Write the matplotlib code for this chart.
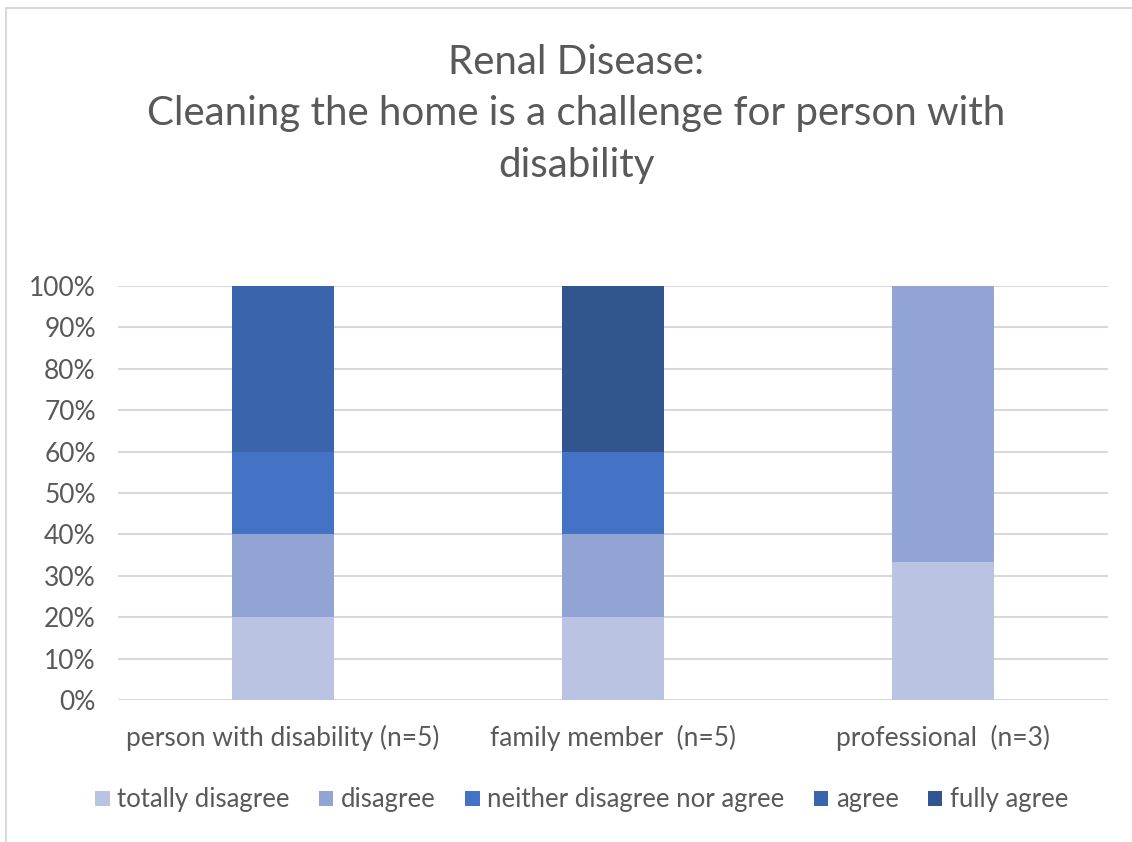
import matplotlib.pyplot as plt
from matplotlib.patches import Rectangle
from matplotlib.ticker import PercentFormatter

plt.rcParams['font.family'] = ['Lato', 'DejaVu Sans']

groups = ["person with disability (n=5)", "family member  (n=5)", "professional  (n=3)"]
responses = ["totally disagree", "disagree", "neither disagree nor agree", "agree", "fully agree"]

# share of answers per group, in percent
totally_disagree = [20, 20, 33.3]
disagree = [20, 20, 66.7]
neither = [20, 20, 0]
agree = [40, 0, 0]
fully_agree = [0, 40, 0]

colors = ["#BAC4E2", "#91A4D4", "#4472C4", "#3A64AC", "#30558F"]
text_col = "#595959"

fig = plt.figure(figsize=(11.32, 8.42), dpi=100)
ax = fig.add_axes([118 / 1132, 1 - 700 / 842, 990 / 1132, 414 / 842])

# light frame around the chart area
fig.patches.append(Rectangle((6 / 1132, -0.01), 1.02, 1 - 8 / 842 + 0.01,
                             transform=fig.transFigure, fill=False,
                             edgecolor="#D9D9D9", linewidth=1.5))

x = list(range(len(groups)))
bottom = [0, 0, 0]
for name, vals, c in zip(responses, [totally_disagree, disagree, neither, agree, fully_agree], colors):
    ax.bar(x, vals, width=0.31, bottom=bottom, color=c, label=name, zorder=3)
    bottom = [b + v for b, v in zip(bottom, vals)]

ax.set_xlim(-0.5, 2.5)
ax.set_ylim(0, 100)
ax.set_yticks(range(0, 101, 10))
ax.yaxis.set_major_formatter(PercentFormatter(decimals=0))
ax.set_xticks(x)
ax.set_xticklabels(groups)
ax.grid(axis='y', color="#D9D9D9", linewidth=1.5, zorder=0)
for s in ax.spines.values():
    s.set_visible(False)
ax.tick_params(length=0, labelsize=19, labelcolor=text_col)
ax.tick_params(axis='x', pad=18)
ax.tick_params(axis='y', pad=16)

title_lines = ["Renal Disease:", "Cleaning the home is a challenge for person with", "disability"]
for line, ypix in zip(title_lines, [62, 113, 165]):
    fig.text(576 / 1132, 1 - ypix / 842, line, ha='center', va='center', fontsize=29, color=text_col)

fig.legend(loc='center', bbox_to_anchor=(582 / 1132, 1 - 800 / 842), ncol=5, frameon=False,
           fontsize=18.5, labelcolor=text_col, handlelength=0.55, handleheight=0.55,
           handletextpad=0.3, columnspacing=1.15)

plt.savefig("out.png", dpi=100)
